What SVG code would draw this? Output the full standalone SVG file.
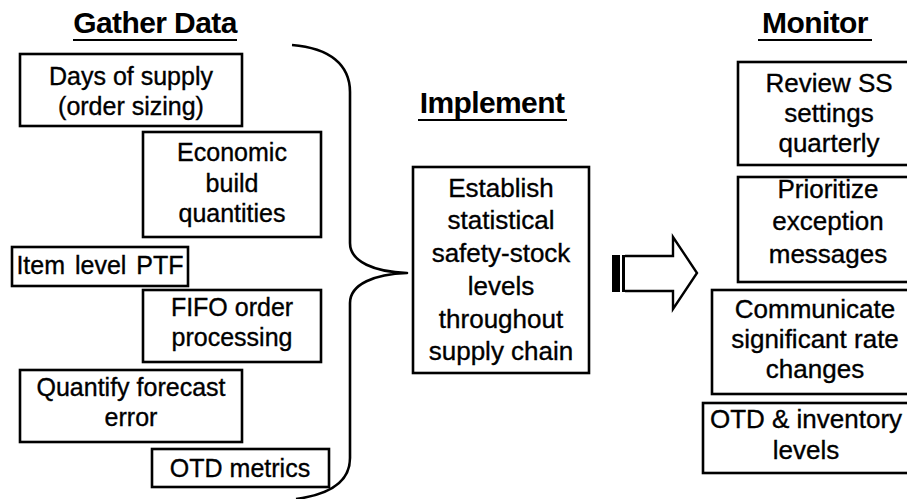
<svg xmlns="http://www.w3.org/2000/svg" width="907" height="499" viewBox="0 0 907 499">
  <style>
    .box { fill: #fff; stroke: #000; stroke-width: 2.6; }
    .txt { font-family: "Liberation Sans", Arial, sans-serif; font-size: 25px; fill: #000; stroke: #000; stroke-width: 0.35; text-anchor: middle; }
    .big { font-size: 26px; }
    .ttl { font-family: "Liberation Sans", Arial, sans-serif; font-size: 30px; font-weight: bold; fill: #000; text-anchor: middle; letter-spacing: -0.6px; }
    .ul { stroke: #000; stroke-width: 2.2; }
    .brace { fill: none; stroke: #000; stroke-width: 2.6; stroke-linejoin: round; }
  </style>
  <rect width="907" height="499" fill="#fff"/>

  <!-- Column headings -->
  <g id="title-gather">
    <text class="ttl" x="155" y="33">Gather Data</text>
    <line class="ul" x1="73" y1="40" x2="237" y2="40"/>
  </g>
  <g id="title-implement">
    <text class="ttl" x="492" y="113">Implement</text>
    <line class="ul" x1="418" y1="120" x2="567" y2="120"/>
  </g>
  <g id="title-monitor">
    <text class="ttl" x="815" y="33">Monitor</text>
    <line class="ul" x1="758" y1="40" x2="872" y2="40"/>
  </g>

  <!-- Gather Data column -->
  <g id="days-of-supply">
    <rect class="box" x="20" y="54" width="222" height="72"/>
    <text class="txt" x="131" y="85">Days of supply</text>
    <text class="txt" x="131" y="115">(order sizing)</text>
  </g>
  <g id="economic-build">
    <rect class="box" x="143" y="132" width="178" height="105"/>
    <text class="txt" x="232" y="161">Economic</text>
    <text class="txt" x="232" y="192">build</text>
    <text class="txt" x="232" y="222">quantities</text>
  </g>
  <g id="item-level-ptf">
    <rect class="box" x="12" y="247" width="176" height="39"/>
    <text class="txt" x="100" y="274" word-spacing="3">Item level PTF</text>
  </g>
  <g id="fifo-order">
    <rect class="box" x="143" y="290" width="178" height="72"/>
    <text class="txt" x="232" y="316">FIFO order</text>
    <text class="txt" x="232" y="346">processing</text>
  </g>
  <g id="forecast-error">
    <rect class="box" x="20" y="370" width="222" height="72"/>
    <text class="txt" x="131" y="396">Quantify forecast</text>
    <text class="txt" x="131" y="426">error</text>
  </g>
  <g id="otd-metrics">
    <rect class="box" x="152" y="449" width="177" height="38"/>
    <text class="txt" x="240" y="477">OTD metrics</text>
  </g>

  <!-- Implement column -->
  <g id="safety-stock">
    <rect class="box" x="413" y="167" width="176" height="206"/>
    <text class="txt big" x="501" y="197">Establish</text>
    <text class="txt big" x="501" y="229">statistical</text>
    <text class="txt big" x="501" y="262">safety-stock</text>
    <text class="txt big" x="501" y="295">levels</text>
    <text class="txt big" x="501" y="328">throughout</text>
    <text class="txt big" x="501" y="360">supply chain</text>
  </g>

  <!-- Monitor column -->
  <g id="review-ss">
    <rect class="box" x="738" y="62" width="182" height="103"/>
    <text class="txt big" x="829" y="92">Review SS</text>
    <text class="txt big" x="829" y="122">settings</text>
    <text class="txt big" x="829" y="152">quarterly</text>
  </g>
  <g id="prioritize">
    <rect class="box" x="738" y="177" width="182" height="105"/>
    <text class="txt big" x="828" y="198">Prioritize</text>
    <text class="txt big" x="828" y="230">exception</text>
    <text class="txt big" x="828" y="263">messages</text>
  </g>
  <g id="rate-changes">
    <rect class="box" x="712" y="290" width="206" height="104"/>
    <text class="txt big" x="815" y="318">Communicate</text>
    <text class="txt big" x="815" y="348">significant rate</text>
    <text class="txt big" x="815" y="378">changes</text>
  </g>
  <g id="otd-inventory">
    <rect class="box" x="703" y="403" width="206" height="70"/>
    <text class="txt big" x="806" y="428">OTD &amp; inventory</text>
    <text class="txt big" x="806" y="459">levels</text>
  </g>

  <!-- Connectors: grouping brace and block arrow -->
  <g id="connectors">
    <path class="brace" d="M292,45 C330,48 350,65 350,92 L350,243 C350,262 375,272 407,273 C375,274 350,284 350,303 L350,458 C350,480 333,494 296,499"/>
    <g id="block-arrow">
      <rect x="612" y="255" width="8" height="37" fill="#000"/>
      <rect x="622" y="255" width="4" height="37" fill="#000"/>
      <path d="M625,256 L673,256 L673,237 L697,273 L673,309 L673,291 L625,291" fill="#fff" stroke="#000" stroke-width="2.4" stroke-linejoin="miter"/>
    </g>
  </g>
</svg>
